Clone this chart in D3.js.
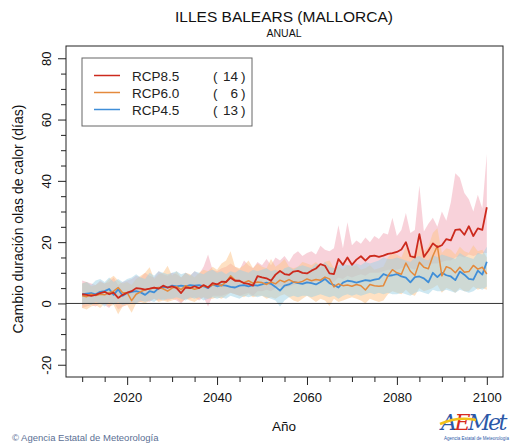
<!DOCTYPE html>
<html lang="es">
<head>
<meta charset="UTF-8">
<title>Illes Balears (Mallorca)</title>
<style>
  body { margin: 0; background: #fff; }
  svg { display: block; font-family: "Liberation Sans", Arial, sans-serif; }
</style>
</head>
<body>
<svg id="chart" width="512" height="444"></svg>
<script src="https://cdnjs.cloudflare.com/ajax/libs/d3/7.8.5/d3.min.js"></script>
<script>
// years of the projection, 2010..2100
var years = d3.range(2010, 2101);

// RCP8.5 : ensemble mean and spread
var rcp85 = [3.0, 2.8, 2.5, 2.8, 3.4, 3.8, 3.0, 3.5, 1.8, 2.8,
  3.5, 4.0, 5.0, 4.8, 4.5, 4.8, 5.2, 4.8, 5.8, 5.2,
  5.6, 5.0, 3.4, 5.2, 5.0, 5.6, 5.0, 6.0, 5.2, 6.6,
  6.2, 7.1, 7.0, 8.4, 7.4, 7.4, 6.6, 6.4, 5.8, 8.9,
  8.5, 8.2, 7.4, 9.4, 10.6, 9.6, 9.3, 10.4, 10.6, 10.0,
  9.8, 10.7, 11.4, 12.8, 12.3, 9.8, 9.6, 14.5, 12.6, 15.0,
  12.6, 14.3, 15.4, 14.0, 15.4, 15.6, 15.2, 15.6, 16.2, 16.4,
  16.8, 17.6, 20.0, 15.4, 15.0, 22.6, 15.2, 17.2, 19.6, 18.4,
  19.0, 21.0, 20.6, 24.0, 24.2, 22.4, 25.2, 22.0, 24.5, 24.0,
  31.4];
var rcp85Hi = [7.5, 7.0, 6.5, 6.0, 7.5, 6.5, 7.0, 8.5, 6.0, 7.0,
  7.5, 8.0, 9.0, 8.5, 10.0, 9.0, 8.5, 10.5, 9.5, 9.0,
  10.0, 9.5, 8.5, 10.0, 9.0, 10.5, 9.5, 12.0, 16.0, 11.0,
  10.5, 11.5, 12.0, 13.0, 12.0, 11.0, 14.0, 12.5, 11.5, 13.5,
  12.5, 14.5, 12.5, 15.0, 14.0, 15.5, 13.5, 16.0, 17.0, 15.5,
  16.5, 17.0, 16.0, 18.8, 17.5, 17.0, 18.0, 25.5, 18.0, 26.5,
  19.0, 20.5, 19.5, 21.5, 20.0, 22.0, 21.0, 23.0, 22.5, 28.0,
  22.0, 24.0, 29.5, 23.0, 24.0, 38.5, 23.5, 26.0, 28.0, 25.0,
  30.0, 27.0, 33.0, 42.5, 41.0, 36.0, 34.0, 30.0, 35.5, 31.0,
  48.8];
var rcp85Lo = [-1.5, -1.0, -0.5, -1.0, 0.0, -0.5, -1.5, 0.5, -2.0, -1.0,
  -0.5, 0.0, 0.5, 0.5, 1.0, 0.5, 1.5, 1.0, 1.5, 1.0,
  1.5, 1.0, 0.0, 1.5, 1.5, 2.0, 1.0, 2.0, -1.0, 2.5,
  2.5, 2.5, 3.0, 3.5, 3.0, 2.5, 3.0, 3.5, 2.5, 4.0,
  4.0, 4.5, 4.0, 5.0, 5.5, 5.0, 5.5, 6.0, 6.5, 6.0,
  6.5, 7.0, 7.0, 7.5, 8.0, 7.0, 7.0, 8.5, 8.0, 9.0,
  8.5, 9.0, 9.5, 9.0, 10.0, 10.0, 10.0, 10.5, 11.0, 11.0,
  11.0, 11.5, 12.0, 11.5, 11.0, 13.0, 12.0, 12.5, 13.0, 13.0,
  13.5, 14.0, 14.0, 15.0, 15.5, 15.0, 16.0, 15.5, 16.0, 16.5,
  16.5];

// RCP6.0
var rcp60 = [2.5, 2.2, 3.0, 2.6, 3.0, 2.8, 3.5, 4.0, 5.2, 3.5,
  3.5, 0.9, 3.0, 3.8, 4.5, 4.8, 5.0, 5.2, 4.8, 4.0,
  5.0, 5.5, 4.5, 5.8, 5.2, 4.6, 5.0, 5.8, 5.4, 6.0,
  6.3, 5.8, 7.0, 9.0, 7.6, 7.2, 6.8, 7.4, 6.6, 7.0,
  6.8, 6.2, 7.0, 6.4, 7.6, 7.0, 7.8, 7.0, 6.8, 7.2,
  8.0, 7.4, 7.8, 7.6, 8.6, 8.0, 5.4, 6.4, 5.8, 6.0,
  5.6, 6.2, 5.8, 4.4, 6.2, 5.8, 5.6, 5.8, 9.0, 11.0,
  10.0, 9.5, 13.2, 10.5, 9.1, 13.4, 11.8, 11.3, 15.5, 18.8,
  9.0, 12.0, 11.4, 10.0, 11.8, 10.2, 10.4, 12.4, 11.2, 11.8,
  9.6];
var rcp60Hi = [6.5, 7.0, 5.5, 6.0, 7.0, 6.5, 8.0, 9.0, 7.5, 6.5,
  7.0, 6.0, 8.0, 9.0, 10.0, 11.8, 8.0, 9.5, 10.0, 12.3,
  9.0, 10.5, 8.5, 10.0, 9.5, 8.5, 10.0, 11.0, 10.5, 12.0,
  11.0, 13.0, 14.0, 17.0, 12.0, 11.5, 12.5, 14.0, 11.5, 13.0,
  12.0, 11.5, 14.5, 12.0, 13.0, 14.5, 12.0, 11.5, 12.0, 13.5,
  13.0, 12.5, 13.5, 12.0, 13.5, 14.0, 11.5, 12.0, 11.0, 12.5,
  12.0, 12.5, 11.0, 11.5, 12.5, 11.0, 11.5, 12.0, 15.0, 16.5,
  16.0, 15.0, 18.5, 15.5, 16.0, 20.0, 17.0, 18.5, 23.0, 24.5,
  16.5, 18.0, 17.5, 16.0, 18.5, 17.0, 16.5, 19.0, 17.0, 17.5,
  15.0];
var rcp60Lo = [-1.5, -2.0, -1.0, -0.5, -1.5, 0.0, -1.0, -0.5, -3.5, -1.0,
  -0.5, -3.0, 0.0, 0.5, 0.0, 1.0, 1.5, 0.5, 1.0, 0.5,
  1.0, 1.5, 0.5, 1.5, 1.0, 0.5, 1.5, 2.0, 1.5, 1.5,
  2.0, 1.5, 2.5, 3.5, 3.0, 2.5, 2.0, 3.0, 2.0, 2.5,
  2.5, 1.5, 2.0, 1.5, 2.5, 3.0, 2.0, 1.0, 0.5, 1.5,
  2.5, 1.5, 0.5, 1.5, 1.0, -0.8, 1.5, 0.5, 1.0, 1.5,
  2.0, 1.5, 1.0, 0.0, 1.5, 1.0, 0.5, 1.0, 3.0, 4.0,
  3.5, 3.0, 4.5, 3.0, 2.5, 5.0, 4.0, 4.5, 5.0, 6.0,
  3.5, 5.0, 4.5, 3.5, 5.0, 4.0, 4.0, 5.5, 4.5, 5.0,
  4.5];

// RCP4.5
var rcp45 = [3.0, 3.2, 3.4, 3.0, 3.8, 4.0, 4.7, 2.8, 4.6, 2.5,
  3.4, 3.8, 4.0, 3.6, 2.8, 4.0, 3.6, 5.0, 5.4, 5.2,
  5.8, 5.6, 5.8, 5.6, 6.0, 5.8, 6.0, 5.6, 5.0, 6.2,
  5.6, 6.0, 5.8, 5.4, 5.2, 5.8, 6.0, 5.6, 6.0, 5.8,
  6.2, 6.8, 6.4, 5.4, 4.2, 5.8, 6.2, 7.0, 6.6, 6.4,
  6.9, 6.6, 6.2, 7.0, 8.0, 6.6, 6.0, 5.2, 6.8, 7.4,
  7.2, 6.8, 7.2, 7.6, 7.4, 7.8, 8.0, 9.6, 9.0, 9.2,
  9.6, 8.8, 8.4, 6.9, 8.6, 8.8, 8.2, 6.9, 10.0, 8.6,
  10.0, 9.2, 8.8, 7.6, 10.4, 9.4, 8.0, 7.8, 10.7, 9.4,
  13.6];
var rcp45Hi = [6.5, 7.0, 6.0, 7.5, 8.0, 7.0, 8.5, 7.0, 8.0, 7.0,
  8.0, 8.5, 9.5, 8.5, 8.0, 10.0, 9.0, 10.5, 10.0, 9.5,
  10.0, 10.5, 9.5, 10.0, 9.0, 10.5, 10.0, 9.5, 10.5, 11.0,
  10.0, 10.5, 9.5, 10.5, 10.0, 11.0, 10.5, 10.0, 11.0, 10.5,
  11.0, 11.5, 10.5, 11.0, 10.0, 11.5, 12.0, 11.0, 12.0, 12.5,
  12.0, 11.5, 13.0, 12.0, 13.5, 12.0, 11.5, 12.5, 13.0, 12.5,
  12.5, 13.0, 12.5, 13.5, 13.0, 13.5, 14.0, 15.0, 14.5, 14.5,
  15.0, 14.5, 14.0, 13.5, 15.0, 15.5, 14.5, 14.0, 16.0, 15.0,
  16.0, 15.5, 15.0, 14.5, 16.5, 15.5, 15.0, 14.5, 16.5, 16.0,
  18.5];
var rcp45Lo = [-0.5, 0.0, -0.5, 0.5, 0.0, -1.0, 0.5, -0.5, 0.5, -0.5,
  0.0, 0.5, 0.0, 1.0, 0.5, 1.0, 0.5, 1.5, 1.0, 1.5,
  1.5, 2.0, 1.5, 1.0, 2.0, 1.5, 2.0, 1.0, 1.5, 2.0,
  1.5, 2.0, 1.5, 2.5, 2.0, 1.5, 2.5, 2.0, 2.5, 2.0,
  2.5, 2.0, 1.5, 1.0, -1.0, 1.0, 2.0, 2.5, 2.0, 2.5,
  2.5, 2.0, 2.5, 3.0, 2.5, 2.0, 2.5, 1.5, 2.5, 3.0,
  2.5, 3.0, 2.5, 3.0, 3.5, 3.0, 3.5, 3.0, 3.5, 3.0,
  3.0, 3.5, 3.0, 2.5, 3.5, 4.0, 3.5, 3.0, 4.5, 4.0,
  4.0, 4.5, 4.0, 3.5, 4.5, 4.0, 3.5, 4.0, 5.0, 4.5,
  5.5];

var scenarios = ["RCP8.5", "RCP6.0", "RCP4.5"];
var models = [14, 6, 13];
var xTickLabels = [2020, 2040, 2060, 2080, 2100];
var yTickLabels = [-20, 0, 20, 40, 60, 80];

var series = [
  {name: "RCP8.5", mean: rcp85, lo: rcp85Lo, hi: rcp85Hi, line: "#cc2a1d", band: "#f2a5b6"},
  {name: "RCP6.0", mean: rcp60, lo: rcp60Lo, hi: rcp60Hi, line: "#e48a3c", band: "#fdc387"},
  {name: "RCP4.5", mean: rcp45, lo: rcp45Lo, hi: rcp45Hi, line: "#3f8ed8", band: "#9ed2e6"}
];

// plot box (names avoid window.top)
var boxL = 66, boxR = 503, boxT = 46, boxB = 377;

var svg = d3.select("#chart");

var x = d3.scaleLinear().domain([2006.4, 2103.6]).range([boxL, boxR]);
var y = d3.scaleLinear().domain([-24, 84]).range([boxB, boxT]);

// bands
var area = d3.area()
  .x(function (d, i) { return x(years[i]); })
  .y0(function (d) { return y(d[0]); })
  .y1(function (d) { return y(d[1]); });

series.forEach(function (s) {
  var pts = s.lo.map(function (v, i) { return [v, s.hi[i]]; });
  svg.append("path")
    .attr("d", area(pts))
    .attr("fill", s.band)
    .attr("fill-opacity", 0.5);
});

// zero line
svg.append("line")
  .attr("x1", boxL).attr("x2", boxR)
  .attr("y1", y(0)).attr("y2", y(0))
  .attr("stroke", "#333").attr("stroke-width", 1);

// mean lines, RCP8.5 drawn last
var line = d3.line()
  .x(function (d, i) { return x(years[i]); })
  .y(function (d) { return y(d); });

[2, 1, 0].forEach(function (k) {
  var s = series[k];
  svg.append("path")
    .attr("d", line(s.mean))
    .attr("fill", "none")
    .attr("stroke", s.line)
    .attr("stroke-width", k == 1 ? 1.5 : 1.8)
    .attr("stroke-linejoin", "round");
});

// box
svg.append("rect")
  .attr("x", boxL).attr("y", boxT)
  .attr("width", boxR - boxL).attr("height", boxB - boxT)
  .attr("fill", "none").attr("stroke", "#222").attr("stroke-width", 1);

// x axis
var xAxis = d3.axisBottom(x)
  .tickValues(d3.range(2010, 2101, 5))
  .tickSize(5)
  .tickFormat(function (d) { return xTickLabels.indexOf(d) >= 0 ? d : ""; });
var gx = svg.append("g")
  .attr("transform", "translate(0," + boxB + ")")
  .call(xAxis);
gx.select(".domain").remove();
gx.selectAll(".tick line")
  .attr("stroke", "#222")
  .attr("y2", function (d) { return xTickLabels.indexOf(d) >= 0 ? 8 : 5; });
gx.selectAll(".tick text")
  .attr("y", 16)
  .attr("font-size", 13)
  .attr("font-family", "Liberation Sans, Arial, sans-serif")
  .attr("fill", "#111");

// y axis
var yAxis = d3.axisLeft(y)
  .tickValues(d3.range(-20, 81, 5))
  .tickSize(5)
  .tickFormat(function (d) { return yTickLabels.indexOf(d) >= 0 ? d : ""; });
var gy = svg.append("g")
  .attr("transform", "translate(" + boxL + ",0)")
  .call(yAxis);
gy.select(".domain").remove();
gy.selectAll(".tick line")
  .attr("stroke", "#222")
  .attr("x2", function (d) { return yTickLabels.indexOf(d) >= 0 ? -8 : -5; });
gy.selectAll(".tick text")
  .attr("x", 0).attr("dy", 0)
  .attr("transform", "translate(-15,0) rotate(-90)")
  .attr("text-anchor", "middle")
  .attr("font-size", 13)
  .attr("font-family", "Liberation Sans, Arial, sans-serif")
  .attr("fill", "#111");

// titles
svg.append("text")
  .attr("x", 284).attr("y", 22)
  .attr("text-anchor", "middle")
  .attr("font-size", 15.5)
  .attr("fill", "#111")
  .text("ILLES BALEARS (MALLORCA)");
svg.append("text")
  .attr("x", 284).attr("y", 37)
  .attr("text-anchor", "middle")
  .attr("font-size", 10.5)
  .attr("fill", "#111")
  .text("ANUAL");
svg.append("text")
  .attr("x", 284).attr("y", 431)
  .attr("text-anchor", "middle")
  .attr("font-size", 13.5)
  .attr("fill", "#111")
  .text("Año");
svg.append("text")
  .attr("transform", "translate(23,219) rotate(-90)")
  .attr("text-anchor", "middle")
  .attr("font-size", 14)
  .attr("fill", "#111")
  .text("Cambio duración olas de calor (días)");

// legend
var lg = svg.append("g");
lg.append("rect")
  .attr("x", 82).attr("y", 58).attr("width", 170).attr("height", 68)
  .attr("fill", "#fff").attr("stroke", "#666").attr("stroke-width", 1);
scenarios.forEach(function (name, i) {
  var yy = 75.5 + i * 17;
  lg.append("line")
    .attr("x1", 94).attr("x2", 120).attr("y1", yy).attr("y2", yy)
    .attr("stroke", series[i].line).attr("stroke-width", 1.5);
  lg.append("text")
    .attr("x", 132).attr("y", yy + 5)
    .attr("font-size", 13.5).attr("fill", "#222")
    .text(name);
  lg.append("text")
    .attr("x", 213).attr("y", yy + 5)
    .attr("font-size", 13.5).attr("fill", "#222")
    .text("(");
  lg.append("text")
    .attr("x", 238).attr("y", yy + 5)
    .attr("text-anchor", "end")
    .attr("font-size", 13.5).attr("fill", "#222")
    .text(models[i]);
  lg.append("text")
    .attr("x", 241).attr("y", yy + 5)
    .attr("font-size", 13.5).attr("fill", "#222")
    .text(")");
});

// credits
svg.append("text")
  .attr("x", 12).attr("y", 441)
  .attr("font-size", 9.5)
  .attr("fill", "#5b6f94")
  .text("© Agencia Estatal de Meteorología");

var logo = svg.append("text")
  .attr("x", 441).attr("y", 430)
  .attr("font-size", 22)
  .attr("font-style", "italic")
  .attr("font-family", "DejaVu Serif, serif")
  .attr("letter-spacing", -2.5);
logo.append("tspan").attr("fill", "#2c58a8").text("A");
logo.append("tspan").attr("fill", "#d62a20").text("E");
logo.append("tspan").attr("fill", "#2c58a8").text("Met");
svg.append("path")
  .attr("d", "M440,424 Q458,416 476,420")
  .attr("fill", "none").attr("stroke", "#f2c21b").attr("stroke-width", 2.5);
svg.append("text")
  .attr("x", 444).attr("y", 440)
  .attr("font-size", 4.5)
  .attr("fill", "#2c58a8")
  .text("Agencia Estatal de Meteorología");
</script>
</body>
</html>
